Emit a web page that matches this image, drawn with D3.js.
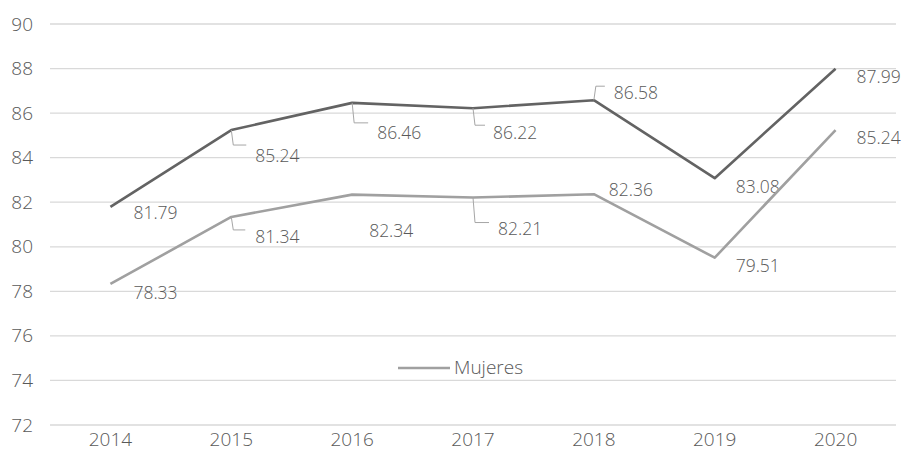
<!DOCTYPE html>
<html>
<head>
<meta charset="utf-8">
<script src="https://cdn.jsdelivr.net/npm/d3@7"></script>
<style>
  body { margin: 0; background: #fff; }
  text { font-family: "Open Sans", sans-serif; font-weight: 300; fill: #595959; }
</style>
</head>
<body>
<div id="chart"></div>
<script>
var years = ["2014", "2015", "2016", "2017", "2018", "2019", "2020"];
var yTicks = [72, 74, 76, 78, 80, 82, 84, 86, 88, 90];
var totalValues = [81.79, 85.24, 86.46, 86.22, 86.58, 83.08, 87.99];
var mujeresValues = [78.33, 81.34, 82.34, 82.21, 82.36, 79.51, 85.24];
var legendNames = ["Mujeres"];

// label placement, px relative to the point: text dx/dy, optional leader [down, right]
var totalLabelPos = [
  {dx: 23, dy: 6}, {dx: 24, dy: 26, lead: [15, 15]}, {dx: 25, dy: 30, lead: [20, 16]},
  {dx: 20, dy: 25, lead: [17, 12]}, {dx: 20, dy: -7, lead: [-14, 11]},
  {dx: 21, dy: 9}, {dx: 21, dy: 8}
];
var mujeresLabelPos = [
  {dx: 23, dy: 9}, {dx: 24, dy: 20, lead: [13, 14]}, {dx: 17, dy: 36},
  {dx: 25, dy: 31, lead: [25, 16]}, {dx: 15, dy: -4},
  {dx: 21, dy: 8}, {dx: 21, dy: 8}
];

var W = 903, H = 453;
var margin = {top: 24, right: 7, bottom: 28, left: 50};
var width = W - margin.left - margin.right,
    height = H - margin.top - margin.bottom;

var svg = d3.select("#chart").append("svg")
  .attr("width", W)
  .attr("height", H)
  .append("g")
  .attr("transform", "translate(" + margin.left + "," + margin.top + ")");

var x = d3.scaleBand().domain(years).range([0, width]);
var y = d3.scaleLinear().domain([72, 90]).range([height, 0]);

function px(i) { return x(years[i]) + x.bandwidth() / 2; }

// grid lines
svg.append("g")
  .selectAll("line")
  .data(yTicks)
  .enter().append("line")
  .attr("x1", 0)
  .attr("x2", width)
  .attr("y1", function(d) { return y(d); })
  .attr("y2", function(d) { return y(d); })
  .attr("stroke", "#d9d9d9")
  .attr("stroke-width", 1.3);

// y axis labels
var yAxis = d3.axisLeft(y).tickValues(yTicks).tickSize(0).tickPadding(17);
svg.append("g").call(yAxis)
  .call(function(g) { g.select(".domain").remove(); })
  .selectAll("text")
  .style("font-size", "19px")
  .attr("fill", "#595959");

// x axis labels
var xAxis = d3.axisBottom(x).tickSize(0).tickPadding(8);
svg.append("g")
  .attr("transform", "translate(0," + height + ")")
  .call(xAxis)
  .call(function(g) { g.select(".domain").remove(); })
  .selectAll("text")
  .style("font-size", "19px")
  .attr("fill", "#595959");

var line = d3.line()
  .x(function(d, i) { return px(i); })
  .y(function(d) { return y(d); });

var series = [
  {values: totalValues, color: "#636363", pos: totalLabelPos},
  {values: mujeresValues, color: "#a0a0a0", pos: mujeresLabelPos}
];

series.forEach(function(s) {
  svg.append("path")
    .datum(s.values)
    .attr("d", line)
    .attr("fill", "none")
    .attr("stroke", s.color)
    .attr("stroke-width", 2.6)
    .attr("stroke-linejoin", "round");

  // leader lines
  svg.append("g")
    .selectAll("path")
    .data(s.values.map(function(v, i) { return {v: v, i: i, p: s.pos[i]}; })
      .filter(function(d) { return d.p.lead; }))
    .enter().append("path")
    .attr("d", function(d) {
      var x0 = px(d.i), y0 = y(d.v);
      return "M" + x0 + "," + y0 + "L" + (x0 + 2) + "," + (y0 + d.p.lead[0]) +
        "L" + (x0 + d.p.lead[1]) + "," + (y0 + d.p.lead[0]);
    })
    .attr("fill", "none")
    .attr("stroke", "#a6a6a6")
    .attr("stroke-width", 1);

  svg.append("g")
    .selectAll("text")
    .data(s.values)
    .enter().append("text")
    .attr("x", function(d, i) { return px(i) + s.pos[i].dx; })
    .attr("y", function(d, i) { return y(d) + s.pos[i].dy; })
    .attr("dy", "0.35em")
    .style("font-size", "17.5px")
    .text(function(d) { return d.toFixed(2); });
});

// legend
var legend = svg.append("g")
  .attr("transform", "translate(" + (398 - margin.left) + "," + (368 - margin.top) + ")");
legend.append("line")
  .attr("x1", 0).attr("x2", 52)
  .attr("stroke", "#a0a0a0")
  .attr("stroke-width", 2.6);
legend.append("text")
  .attr("x", 56)
  .attr("dy", "0.3em")
  .style("font-size", "19px")
  .text(legendNames[0]);
</script>
</body>
</html>
